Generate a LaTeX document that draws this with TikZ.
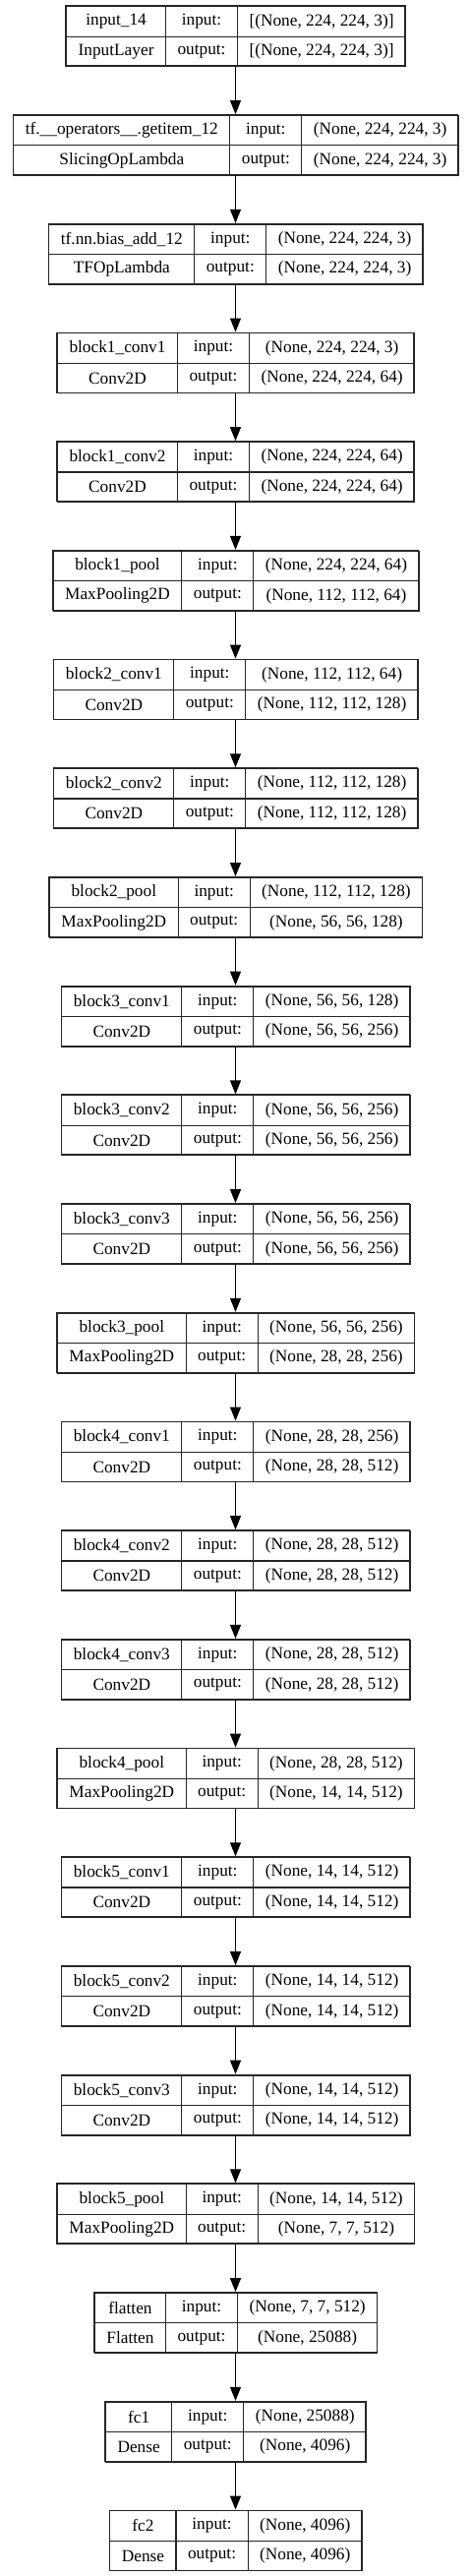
\documentclass[tikz,border=0pt]{standalone}
\usepackage{fontspec}
\setmainfont{Liberation Serif}
\usepackage{tikz}
\usetikzlibrary{arrows.meta, positioning, calc}

\newcommand\recfont{\fontsize{17.3pt}{20pt}\selectfont}
\newlength\colA \newlength\colB \newlength\colC \newlength\tmpw

% column widths of one record (run inside a node, where the font is set)
\newcommand\measurerec[4]{%
  \settowidth\colA{#1}\settowidth\tmpw{#2}%
  \ifdim\tmpw>\colA \colA=\tmpw\fi \addtolength\colA{24pt}\global\colA=\colA
  \settowidth\colB{output:}\addtolength\colB{24pt}\global\colB=\colB
  \settowidth\colC{#3}\settowidth\tmpw{#4}%
  \ifdim\tmpw>\colC \colC=\tmpw\fi \addtolength\colC{24pt}\global\colC=\colC
}

% one layer record: id, row, name, type, input shape, output shape
\newcommand\layerrec[6]{%
  \path node[inner sep=0pt, font=\recfont] (#1-size) at (0,0) {\measurerec{#3}{#4}{#5}{#6}};
  \pgfmathsetmacro\ytop{6+110.7*#2}%
  \pgfmathsetmacro\xa{239.5-(\colA+\colB+\colC)/2}%
  \pgfmathsetmacro\xb{\xa+\colA}%
  \pgfmathsetmacro\xc{\xb+\colB}%
  \pgfmathsetlengthmacro\wtot{\colA+\colB+\colC}%
  \node[rec, minimum width=\wtot] (#1) at (239.5,\ytop+30.5) {};
  \node[cell, minimum width=\colA] (#1-name) at (\xa,\ytop) {#3};
  \node[cell, minimum width=\colA] (#1-type) at (\xa,\ytop+30.5) {#4};
  \node[cell, minimum width=\colB] (#1-inl) at (\xb,\ytop) {input:};
  \node[cell, minimum width=\colB] (#1-outl) at (\xb,\ytop+30.5) {output:};
  \node[cell, minimum width=\colC] (#1-in) at (\xc,\ytop) {#5};
  \node[cell, minimum width=\colC] (#1-out) at (\xc,\ytop+30.5) {#6};
}

\begin{document}
\begin{tikzpicture}[
        x=1pt, y=-1pt,
        rec/.style={draw=black!85, line width=1.2pt, minimum height=61pt, inner sep=0pt},
        cell/.style={draw=black!85, line width=1.2pt, anchor=north west, minimum height=30.5pt, inner sep=0pt, font=\recfont},
        >={Triangle[length=14pt, width=11pt]},
      ]
        \useasboundingbox (0,0) rectangle (479,2619);

        \layerrec{in14}{0}{input\_14}{InputLayer}{[(None, 224, 224, 3)]}{[(None, 224, 224, 3)]}
        \layerrec{getitem}{1}{tf.\_\_operators\_\_.getitem\_12}{SlicingOpLambda}{(None, 224, 224, 3)}{(None, 224, 224, 3)}
        \layerrec{biasadd}{2}{tf.nn.bias\_add\_12}{TFOpLambda}{(None, 224, 224, 3)}{(None, 224, 224, 3)}
        \layerrec{b1c1}{3}{block1\_conv1}{Conv2D}{(None, 224, 224, 3)}{(None, 224, 224, 64)}
        \layerrec{b1c2}{4}{block1\_conv2}{Conv2D}{(None, 224, 224, 64)}{(None, 224, 224, 64)}
        \layerrec{b1p}{5}{block1\_pool}{MaxPooling2D}{(None, 224, 224, 64)}{(None, 112, 112, 64)}
        \layerrec{b2c1}{6}{block2\_conv1}{Conv2D}{(None, 112, 112, 64)}{(None, 112, 112, 128)}
        \layerrec{b2c2}{7}{block2\_conv2}{Conv2D}{(None, 112, 112, 128)}{(None, 112, 112, 128)}
        \layerrec{b2p}{8}{block2\_pool}{MaxPooling2D}{(None, 112, 112, 128)}{(None, 56, 56, 128)}
        \layerrec{b3c1}{9}{block3\_conv1}{Conv2D}{(None, 56, 56, 128)}{(None, 56, 56, 256)}
        \layerrec{b3c2}{10}{block3\_conv2}{Conv2D}{(None, 56, 56, 256)}{(None, 56, 56, 256)}
        \layerrec{b3c3}{11}{block3\_conv3}{Conv2D}{(None, 56, 56, 256)}{(None, 56, 56, 256)}
        \layerrec{b3p}{12}{block3\_pool}{MaxPooling2D}{(None, 56, 56, 256)}{(None, 28, 28, 256)}
        \layerrec{b4c1}{13}{block4\_conv1}{Conv2D}{(None, 28, 28, 256)}{(None, 28, 28, 512)}
        \layerrec{b4c2}{14}{block4\_conv2}{Conv2D}{(None, 28, 28, 512)}{(None, 28, 28, 512)}
        \layerrec{b4c3}{15}{block4\_conv3}{Conv2D}{(None, 28, 28, 512)}{(None, 28, 28, 512)}
        \layerrec{b4p}{16}{block4\_pool}{MaxPooling2D}{(None, 28, 28, 512)}{(None, 14, 14, 512)}
        \layerrec{b5c1}{17}{block5\_conv1}{Conv2D}{(None, 14, 14, 512)}{(None, 14, 14, 512)}
        \layerrec{b5c2}{18}{block5\_conv2}{Conv2D}{(None, 14, 14, 512)}{(None, 14, 14, 512)}
        \layerrec{b5c3}{19}{block5\_conv3}{Conv2D}{(None, 14, 14, 512)}{(None, 14, 14, 512)}
        \layerrec{b5p}{20}{block5\_pool}{MaxPooling2D}{(None, 14, 14, 512)}{(None, 7, 7, 512)}
        \layerrec{flat}{21}{flatten}{Flatten}{(None, 7, 7, 512)}{(None, 25088)}
        \layerrec{fc1}{22}{fc1}{Dense}{(None, 25088)}{(None, 4096)}
        \layerrec{fc2}{23}{fc2}{Dense}{(None, 4096)}{(None, 4096)}

        \foreach \a/\b in {in14/getitem, getitem/biasadd, biasadd/b1c1, b1c1/b1c2, b1c2/b1p,
            b1p/b2c1, b2c1/b2c2, b2c2/b2p, b2p/b3c1, b3c1/b3c2, b3c2/b3c3, b3c3/b3p,
            b3p/b4c1, b4c1/b4c2, b4c2/b4c3, b4c3/b4p, b4p/b5c1, b5c1/b5c2, b5c2/b5c3,
            b5c3/b5p, b5p/flat, flat/fc1, fc1/fc2}
          \draw[black, line width=1.2pt, ->] (\a) -- (\b);
      \end{tikzpicture}
\end{document}
